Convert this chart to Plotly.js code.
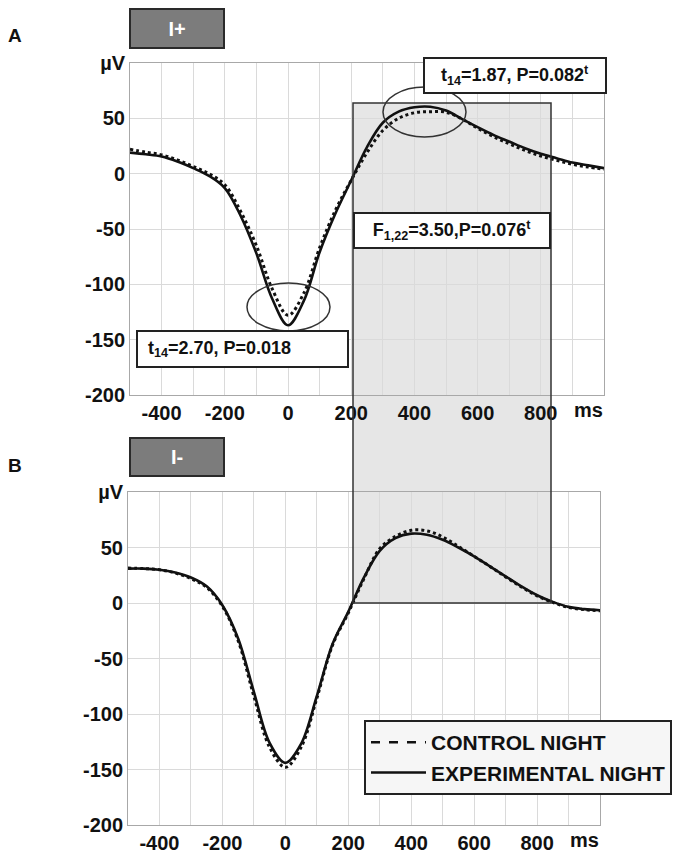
<!DOCTYPE html>
<html><head><meta charset="utf-8">
<script src="https://cdn.plot.ly/plotly-3.0.1.min.js"></script>
<style>html,body{margin:0;padding:0;background:#fff}#c{width:699px;height:857px}</style>
</head><body><div id="c"></div>
<script>
// time in ms
const timeMs = [-500,-450,-400,-350,-300,-250,-200,-150,-100,-50,0,50,100,150,200,250,300,350,400,450,500,550,600,650,700,750,800,850,900,950,1000];
// Panel A (I+)
const ctrlA = [22,19.5,17,12.5,6.5,0,-10,-34,-65,-104,-128,-108,-67,-33,-6,19,39,50,55,56,55.5,49.5,41,33.5,27,21,16,12,8.5,6,4];
const expA  = [19,17.5,15.5,11,5,-2,-13,-38,-72,-113,-137,-115,-71,-36,-6,24,46,56,60,60.5,57,49.5,42,35,29,23,18,14,10,7.5,5];
// Panel B (I-)
const ctrlB = [31.5,31,30,27,22,14,-3,-34,-84,-130,-148,-130,-86,-38,-9,22,49,60,65.5,65,59.5,51,42,33,23.5,14.5,6.5,0.5,-4,-6,-7];
const expB  = [31,31,30,27.5,23,15,-2,-32,-80,-126,-144,-127,-84,-37,-8,23,47,58.5,62.5,61.5,57,50,42,33,24,15,7,1,-3.5,-5.5,-6.5];

const xTickVals = [-400,-200,0,200,400,600,800];
const xTickText = ['-400','-200','0','200','400','600','800'];
const xMinorGrid = [-300,-100,100,300,500,700,900];
const yTickVals = [-200,-150,-100,-50,0,50,100];
const yTickText = ['-200','-150','-100','-50','0','50','µV'];
const legendNames = ['CONTROL NIGHT','EXPERIMENTAL NIGHT'];

const W=699,H=857;
const px = v => v/W, py = v => 1 - v/H;
const FONT = 'Liberation Sans, Arial, sans-serif';
const tf = {family:FONT,size:20,color:'#111',weight:'bold'};
const GRID = '#dadada';

function xa(d,anc){return {domain:d,anchor:anc,range:[-500,1000],tickvals:xTickVals,ticktext:xTickText,showgrid:true,gridcolor:GRID,gridwidth:1,
  minor:{tickvals:xMinorGrid,showgrid:true,gridcolor:GRID,gridwidth:1,ticks:''},
  showline:true,linecolor:'#a8a8a8',linewidth:1,mirror:true,zeroline:false,ticks:'',tickfont:tf,fixedrange:true};}
function ya(d,anc){return {domain:d,anchor:anc,range:[-200,100],tickvals:yTickVals,ticktext:yTickText,showgrid:true,gridcolor:GRID,gridwidth:1,showline:true,linecolor:'#a8a8a8',linewidth:1,mirror:true,zeroline:false,ticks:'',tickfont:tf,fixedrange:true};}

const dotLine = {color:'#111',width:3,dash:'dot',shape:'spline',smoothing:1};
const solLine = {color:'#111',width:2.6,shape:'spline',smoothing:1};

const traces = [
  {x:timeMs,y:ctrlA,mode:'lines',line:dotLine,xaxis:'x',yaxis:'y',showlegend:false},
  {x:timeMs,y:expA,mode:'lines',line:solLine,xaxis:'x',yaxis:'y',showlegend:false},
  {x:timeMs,y:ctrlB,mode:'lines',line:dotLine,xaxis:'x2',yaxis:'y2',showlegend:false},
  {x:timeMs,y:expB,mode:'lines',line:solLine,xaxis:'x2',yaxis:'y2',showlegend:false},
  {x:[null],y:[null],mode:'lines',name:legendNames[0],line:{color:'#111',width:2.5,dash:'dash'},xaxis:'x2',yaxis:'y2'},
  {x:[null],y:[null],mode:'lines',name:legendNames[1],line:{color:'#111',width:2.5},xaxis:'x2',yaxis:'y2'}
];

function box(text,cx,cy,w,h,opt){
  return Object.assign({text:text,xref:'paper',yref:'paper',x:px(cx),y:py(cy),xanchor:'center',yanchor:'middle',showarrow:false,width:w,height:h,bgcolor:'#fff',bordercolor:'#222',borderwidth:2,borderpad:0,font:{family:FONT,size:18,color:'#111'}},opt||{});
}
function lbl(text,cx,cy,f){
  return {text:text,xref:'paper',yref:'paper',x:px(cx),y:py(cy),xanchor:'center',yanchor:'middle',showarrow:false,font:f};
}

const annotations = [
  lbl('<b>A</b>',15,35,{family:FONT,size:19,color:'#111'}),
  lbl('<b>B</b>',15,465,{family:FONT,size:19,color:'#111'}),
  box('<b>I+</b>',177,28,92,37,{bgcolor:'#7c7c7c',bordercolor:'#2a2a2a',font:{family:FONT,size:20,color:'#fff'}}),
  box('<b>I-</b>',177,457,92,36,{bgcolor:'#7c7c7c',bordercolor:'#2a2a2a',font:{family:FONT,size:20,color:'#fff'}}),
  box('<b>t<sub>14</sub>=1.87, P=0.082<sup>t</sup></b>',515,75,180,33),
  box('<b>F<sub>1,22</sub>=3.50,P=0.076<sup>t</sup></b>',452,231,194,33),
  box('<b>\u00a0\u00a0t<sub>14</sub>=2.70, P=0.018</b>',243,349.5,209,34,{align:'left'}),
  lbl('<b>ms</b>',588,410,tf),
  lbl('<b>ms</b>',584,840,tf)
];

const shapes = [
  {type:'rect',xref:'paper',yref:'paper',x0:px(353),x1:px(551),y0:py(603),y1:py(103),fillcolor:'#e6e6e6',line:{width:0},layer:'below'},
  {type:'rect',xref:'paper',yref:'paper',x0:px(353),x1:px(551),y0:py(603),y1:py(103),fillcolor:'rgba(0,0,0,0)',line:{color:'#333',width:1.5},layer:'above'},
  {type:'circle',xref:'paper',yref:'paper',x0:px(383),x1:px(466),y0:py(137),y1:py(87),line:{color:'#333',width:1.5},layer:'above'},
  {type:'circle',xref:'paper',yref:'paper',x0:px(247),x1:px(330),y0:py(331),y1:py(283),line:{color:'#333',width:1.5},layer:'above'}
];

const layout = {
  width:W,height:H,margin:{l:0,r:0,t:0,b:0},
  paper_bgcolor:'#fff',plot_bgcolor:'rgba(0,0,0,0)',
  font:{family:FONT,color:'#111'},
  xaxis:xa([px(130),px(604)],'y'), yaxis:ya([py(395),py(63)],'x'),
  xaxis2:xa([px(128),px(600)],'y2'), yaxis2:ya([py(825),py(492)],'x2'),
  showlegend:true,
  legend:{x:px(364),y:py(720),xanchor:'left',yanchor:'top',bgcolor:'#f6f6f6',bordercolor:'#222',borderwidth:2,font:{family:FONT,size:21,color:'#111',weight:'bold'},itemwidth:55,tracegroupgap:0},
  annotations:annotations, shapes:shapes
};
Plotly.newPlot('c',traces,layout,{staticPlot:true});
</script></body></html>
